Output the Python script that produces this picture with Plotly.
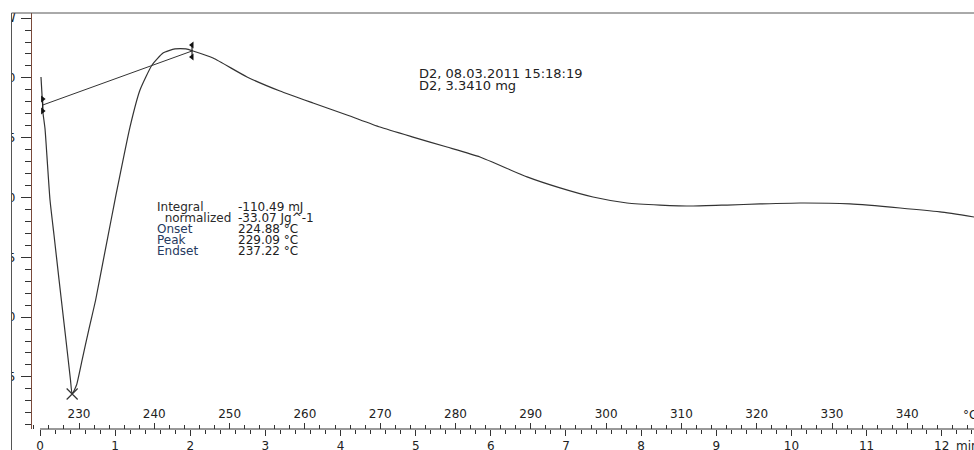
import plotly.graph_objects as go

# ---- data -------------------------------------------------------------
# DSC heat flow (mW) against program temperature (deg C)
temp_c = [224.95, 225.09, 225.17, 225.22, 225.49, 225.82, 226.15, 226.68,
          227.34, 228.01, 228.54, 228.87, 229.09, 229.67, 230.41, 231.29,
          232.21, 233.36, 234.34, 234.91, 236.77, 238.10, 239.70, 241.16,
          242.75, 244.21, 245.14, 247.80, 252.31, 256.69, 261.08, 265.59,
          269.97, 274.36, 278.87, 283.25, 289.50, 293.88, 298.26, 302.78,
          307.16, 311.55, 316.06, 320.44, 325.76, 332.39, 339.04, 344.35,
          348.86]
heat_flow_mw = [1.008, 0.857, 0.773, 0.707, 0.573, 0.272, -0.021, -0.314,
                -0.682, -1.050, -1.342, -1.526, -1.643, -1.568, -1.359, -1.108,
                -0.857, -0.481, -0.163, 0.021, 0.589, 0.899, 1.108, 1.208,
                1.242, 1.242, 1.225, 1.166, 1.008, 0.890, 0.790, 0.690,
                0.589, 0.505, 0.422, 0.339, 0.172, 0.080, 0.004, -0.046,
                -0.063, -0.071, -0.063, -0.054, -0.046, -0.054, -0.088, -0.121,
                -0.163]

# evaluation results
peak_temp = 229.09
peak_hf = -1.643
baseline_temp = [225.17, 245.01]
baseline_hf = [0.773, 1.225]
stat_names = ["Integral", "  normalized", "Onset", "Peak", "Endset"]
stat_values = ["-110.49 mJ", "-33.07 Jg^-1", "224.88 °C", "229.09 °C", "237.22 °C"]
sample_info = ["D2, 08.03.2011 15:18:19", "D2, 3.3410 mg"]

# axis ticks
y_tickvals = [1.5, 1.0, 0.5, 0.0, -0.5, -1.0, -1.5]
y_ticktext = ["mW", "1.0", "0.5", "0.0", "-0.5", "-1.0", "-1.5"]
temp_ticks = list(range(230, 350, 10))
time_ticks = list(range(0, 13))
time_labels = [str(t) for t in range(0, 13)]

# ---- geometry -----------------------------------------------------------
W, H = 974, 450
ML, MR, MT, MB = 32, 0, 13, 21
PW, PH = W - ML - MR, H - MT - MB
T_RANGE = [223.758, 348.858]
TIME_RANGE = [-0.1065, 12.430]
Y_RANGE = [-1.9356, 1.5426]


def px_x(px):
    return (px - ML) / PW


def px_y(py):
    return (H - MB - py) / PH


INK = "#333333"
FONT = "DejaVu Sans"

fig = go.Figure()

# measured curve
fig.add_trace(go.Scatter(
    x=temp_c, y=heat_flow_mw, mode="lines",
    line=dict(color="#333333", width=1.2, shape="spline", smoothing=0.5),
    hoverinfo="skip", showlegend=False))

# integration baseline with its end brackets
fig.add_trace(go.Scatter(
    x=baseline_temp, y=baseline_hf, mode="lines",
    line=dict(color="#333333", width=1), hoverinfo="skip", showlegend=False))
d = 0.05
for bt, bh, sym in zip(baseline_temp, baseline_hf, ["triangle-right", "triangle-left"]):
    fig.add_trace(go.Scatter(
        x=[bt, bt], y=[bh + d, bh - d], mode="lines+markers",
        line=dict(color="#222", width=1.2),
        marker=dict(symbol=sym, size=6, color="#111"),
        hoverinfo="skip", showlegend=False))

# peak marker
fig.add_trace(go.Scatter(
    x=[peak_temp], y=[peak_hf], mode="markers",
    marker=dict(symbol="x-thin", size=11, line=dict(color="#333", width=1.2)),
    hoverinfo="skip", showlegend=False))

# time axis carrier
fig.add_trace(go.Scatter(x=[0], y=[0], xaxis="x2", mode="markers",
                         marker=dict(size=0.1, opacity=0), hoverinfo="skip",
                         showlegend=False))

tick_font = dict(family=FONT, size=12, color="#222")

fig.update_layout(
    width=W, height=H,
    margin=dict(l=ML, r=MR, t=MT, b=MB, pad=0),
    paper_bgcolor="white", plot_bgcolor="white",
    showlegend=False,
    xaxis=dict(
        range=T_RANGE, anchor="free", position=0, side="top",
        tickmode="array", tickvals=temp_ticks,
        ticks="outside", ticklen=6, tickwidth=1, tickcolor=INK,
        minor=dict(tickmode="linear", tick0=0, dtick=2, ticks="outside",
                   ticklen=4, tickwidth=1, tickcolor=INK, showgrid=False),
        tickfont=tick_font, showgrid=False, zeroline=False, showline=False,
        automargin=False, fixedrange=True),
    xaxis2=dict(
        range=TIME_RANGE, overlaying="x", anchor="y", side="bottom",
        tickmode="array", tickvals=time_ticks, ticktext=time_labels,
        ticks="outside", ticklen=6, tickwidth=1, tickcolor=INK,
        minor=dict(tickmode="linear", tick0=0, dtick=0.2, ticks="outside",
                   ticklen=4, tickwidth=1, tickcolor=INK, showgrid=False),
        tickfont=tick_font, showgrid=False, zeroline=False, showline=False,
        automargin=False, fixedrange=True),
    yaxis=dict(
        range=Y_RANGE, tickmode="array", tickvals=y_tickvals, ticktext=y_ticktext,
        ticks="outside", ticklen=10, tickwidth=1, tickcolor=INK,
        minor=dict(tickmode="linear", tick0=0, dtick=0.1, ticks="outside",
                   ticklen=6, tickwidth=1, tickcolor=INK, showgrid=False),
        tickfont=tick_font, ticklabelstandoff=3,
        showline=True, linecolor="#7a4a3a", linewidth=1.2,
        showgrid=False, zeroline=False, automargin=False, fixedrange=True),
)

shapes = [
    # bottom axis line, starting at time zero
    dict(type="line", xref="x2", yref="paper", x0=0, x1=TIME_RANGE[1],
         y0=0, y1=0, line=dict(color=INK, width=1)),
    # left crop of the frame
    dict(type="rect", xref="paper", yref="paper", x0=px_x(-2), x1=px_x(11.5),
         y0=px_y(H + 5), y1=px_y(-5), fillcolor="white", line=dict(width=0),
         layer="above"),
    dict(type="line", xref="paper", yref="paper", x0=px_x(11.5), x1=px_x(11.5),
         y0=px_y(H + 5), y1=1, line=dict(color="#555", width=1), layer="above"),
    dict(type="line", xref="paper", yref="paper", x0=px_x(11.5), x1=1,
         y0=1, y1=1, line=dict(color="#555", width=1), layer="above"),
]
fig.update_layout(shapes=shapes)

ann = []
info_font = dict(family=FONT, size=13, color="#222")
stat_font_size = 12
# sample information
for i, s in enumerate(sample_info):
    ann.append(dict(text=s, xref="paper", yref="paper", x=px_x(417), y=px_y(73 + 12 * i),
                    xanchor="left", yanchor="middle", showarrow=False, font=info_font))
# evaluation table
name_colors = ["#2a2a2a", "#2a2a2a", "#263a60", "#263a60", "#263a60"]
for i, (n, v) in enumerate(zip(stat_names, stat_values)):
    yy = px_y(207 + 11 * i)
    ann.append(dict(text=n.replace(" ", "&nbsp;"), xref="paper", yref="paper", x=px_x(155), y=yy,
                    xanchor="left", yanchor="middle", showarrow=False,
                    font=dict(family=FONT, size=stat_font_size, color=name_colors[i])))
    ann.append(dict(text=v, xref="paper", yref="paper", x=px_x(236), y=yy,
                    xanchor="left", yanchor="middle", showarrow=False,
                    font=dict(family=FONT, size=stat_font_size, color="#222")))
# axis units
ann.append(dict(text="°C", xref="paper", yref="paper", x=px_x(961), y=px_y(415),
                xanchor="left", yanchor="middle", showarrow=False, font=tick_font))
ann.append(dict(text="min", xref="paper", yref="paper", x=px_x(954), y=px_y(446),
                xanchor="left", yanchor="middle", showarrow=False, font=tick_font))
fig.update_layout(annotations=ann)

fig.write_html("out.html")
